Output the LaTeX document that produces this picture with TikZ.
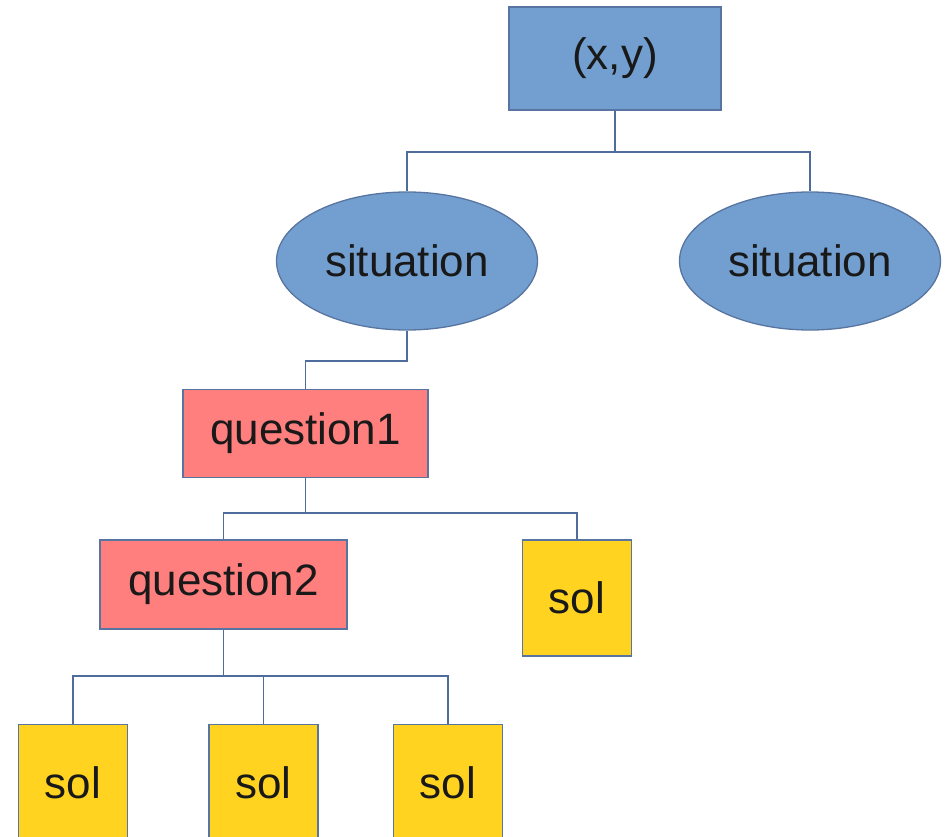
\documentclass[tikz,border=0pt]{standalone}
\usepackage{fontspec}
\setmainfont{Liberation Sans}
\usetikzlibrary{shapes.geometric}
\definecolor{bluefill}{HTML}{729FCF}
\definecolor{pinkfill}{HTML}{FF7F7F}
\definecolor{yellowfill}{HTML}{FFD320}
\definecolor{edgecol}{HTML}{5874A0}
\definecolor{linecol}{HTML}{4E6C9C}
\tikzset{
  base/.style={draw=edgecol, line width=1.3pt, inner sep=0pt, text=black!90,
    font=\fontsize{44}{52}\selectfont},
  rootbox/.style={base, rectangle, fill=bluefill, minimum width=212pt, minimum height=103pt},
  sitell/.style={base, ellipse, fill=bluefill, minimum width=261pt, minimum height=138pt},
  qbox/.style={base, rectangle, fill=pinkfill, minimum height=88pt},
  solbox/.style={base, rectangle, fill=yellowfill, minimum width=109pt, minimum height=116pt},
  conn/.style={draw=linecol, line width=1.4pt}
}
\begin{document}
\begin{tikzpicture}[x=1pt,y=-1pt]
\useasboundingbox (0,0) rectangle (948,837);
\node[rootbox] (root) at (615,58.5) {(x,y)};
\node[sitell] (s1) at (407,261) {situation};
\node[sitell] (s2) at (810,261) {situation};
\node[qbox, minimum width=245pt] (q1) at (305.5,433.5) {question1};
\node[qbox, minimum width=247pt, minimum height=89pt] (q2) at (223.5,584.5) {question2};
\node[solbox] (sr) at (577,598) {sol};
\node[solbox, anchor=north] (a1) at (73,724) {sol};
\node[solbox, anchor=north] (a2) at (263.5,724) {sol};
\node[solbox, anchor=north] (a3) at (448,724) {sol};
\coordinate (j1) at (615,152);
\coordinate (j2) at (305.5,361);
\coordinate (j3) at (305.5,513);
\coordinate (j4) at (223.5,676);
\draw[conn] (root.south) -- (j1) -| (s1.north);
\draw[conn] (j1) -| (s2.north);
\draw[conn] (s1.south) |- (j2) -- (q1.north);
\draw[conn] (q1.south) -- (j3) -| (q2.north);
\draw[conn] (j3) -| (sr.north);
\draw[conn] (q2.south) -- (j4) -| (a1.north);
\draw[conn] (j4) -| (a2.north);
\draw[conn] (j4) -| (a3.north);
\end{tikzpicture}
\end{document}
